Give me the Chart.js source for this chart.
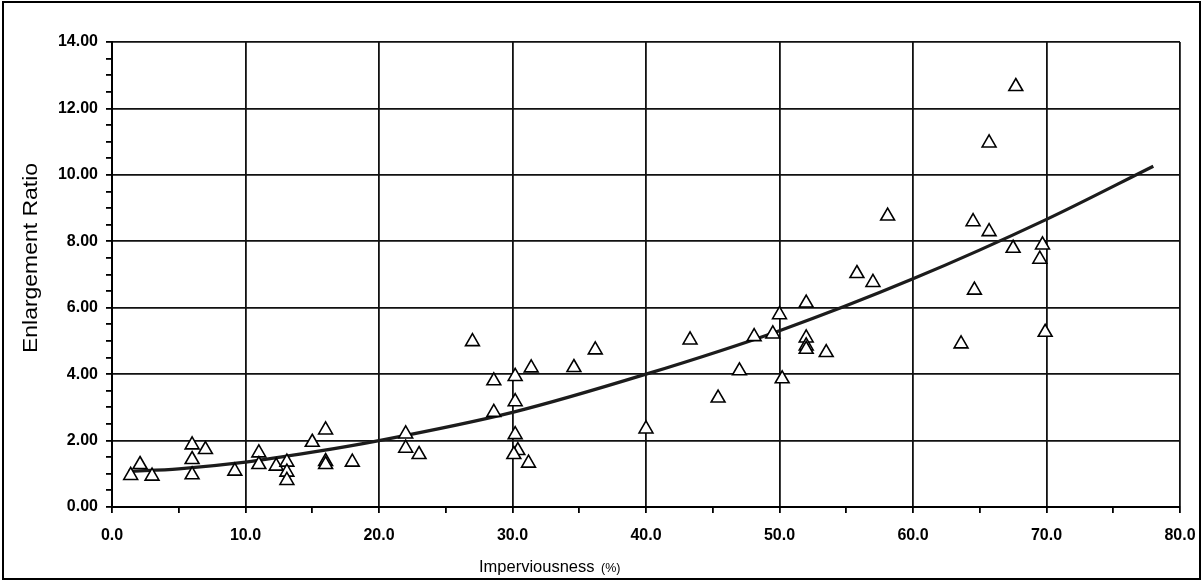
<!DOCTYPE html>
<html>
<head>
<meta charset="utf-8">
<script src="https://cdn.jsdelivr.net/npm/chart.js@4"></script>
<style>
  html, body { margin: 0; padding: 0; background: #fff; }
  #wrap { width: 1203px; height: 583px; position: relative; }
</style>
</head>
<body>
<div id="wrap"><canvas id="c" width="1203" height="583"></canvas></div>
<script>
const imperviousness = [1.4, 2.1, 3.0, 6, 6, 6, 7, 9.2, 11, 11, 12.3, 13.1, 13.1, 13.1, 15, 16, 16, 16, 18,
  22, 22, 23, 27, 28.6, 28.6, 30.2, 30.2, 30.2, 30.4, 30.1, 31.2, 31.4, 34.6, 36.2, 40,
  43.3, 45.4, 47, 48.1, 49.5, 50, 50.2, 52, 52, 52, 52, 53.5, 55.8, 57, 58.1,
  63.6, 64.6, 64.5, 65.7, 65.7, 67.5, 67.7, 69.5, 69.7, 69.9];
const enlargementRatio = [0.95, 1.28, 0.93, 1.87, 1.43, 0.97, 1.73, 1.08, 1.63, 1.28, 1.23, 1.35, 1.05, 0.80, 1.95, 2.32, 1.37, 1.28, 1.35,
  2.2, 1.77, 1.58, 4.98, 3.80, 2.85, 3.93, 3.17, 2.18, 1.70, 1.58, 1.32, 4.19, 4.20, 4.73, 2.35,
  5.03, 3.28, 4.10, 5.13, 5.21, 5.79, 3.86, 6.14, 5.09, 4.85, 4.75, 4.65, 7.03, 6.76, 8.76,
  4.91, 6.53, 8.59, 10.96, 8.29, 7.79, 12.66, 7.46, 7.89, 5.26];
// Trend curve, points
const trendX = [1.2, 5, 10, 15, 20, 30, 40, 50, 60, 70, 78];
const trendY = [1.07, 1.15, 1.35, 1.65, 2.0, 2.85, 4.0, 5.31, 6.87, 8.66, 10.26];
// Axis ranges and labels
const xTitleMain = 'Imperviousness';
const xTitleUnit = '(%)';
const yTitle = 'Enlargement Ratio';
const xMin = 0, xMax = 80, xMinorStep = 5, xMajorStep = 10;
const yMin = 0, yMax = 14, yMinorStep = 0.5, yMajorStep = 2;

const scatterData = imperviousness.map((x, i) => ({x: x, y: enlargementRatio[i]}));
const trendData = trendX.map((x, i) => ({x: x, y: trendY[i]}));

const isMult = (v, s) => Math.abs(v / s - Math.round(v / s)) < 1e-6;
const FONT = '"Liberation Sans", Arial, sans-serif';

const framePlugin = {
  id: 'frame',
  afterDraw(chart) {
    const ctx = chart.ctx;
    ctx.save();
    ctx.strokeStyle = '#000';
    ctx.lineWidth = 2;
    ctx.strokeRect(3, 2, 1197, 577);

    // x-axis title: main word plus smaller unit
    ctx.fillStyle = '#000';
    ctx.textBaseline = 'alphabetic';
    ctx.textAlign = 'left';
    ctx.font = '16.5px ' + FONT;
    ctx.fillText(xTitleMain, 479, 572);
    ctx.font = '12.5px ' + FONT;
    ctx.fillText(xTitleUnit, 601, 572);

    // y-axis title, rotated, stretched along its length
    ctx.font = '20px ' + FONT;
    const w = ctx.measureText(yTitle).width;
    ctx.translate(31, 258);
    ctx.rotate(-Math.PI / 2);
    ctx.scale(190 / w, 1);
    ctx.textAlign = 'center';
    ctx.textBaseline = 'middle';
    ctx.fillText(yTitle, 0, 0);
    ctx.restore();
  }
};

new Chart(document.getElementById('c'), {
  type: 'scatter',
  data: {
    datasets: [
      {
        label: 'Observed',
        data: scatterData,
        pointStyle: 'triangle',
        pointRadius: 8,
        pointHoverRadius: 8,
        pointBackgroundColor: '#fff',
        pointBorderColor: '#000',
        pointBorderWidth: 1.6,
        showLine: false,
        order: 0
      },
      {
        label: 'Trend',
        data: trendData,
        showLine: true,
        borderColor: '#1c1c1c',
        borderWidth: 3.2,
        pointRadius: 0,
        cubicInterpolationMode: 'monotone',
        fill: false,
        order: 1
      }
    ]
  },
  options: {
    responsive: false,
    animation: false,
    layout: { padding: { left: 0, right: 23, top: 42, bottom: 0 } },
    plugins: { legend: { display: false }, tooltip: { enabled: false } },
    scales: {
      x: {
        type: 'linear',
        min: xMin, max: xMax,
        afterFit(s) { s.height = 76; s.paddingLeft = 0; s.paddingRight = 0; },
        border: { color: '#000', width: 2 },
        grid: {
          color: c => isMult(c.tick.value, xMajorStep) ? '#111' : 'rgba(0,0,0,0)',
          tickColor: '#000',
          lineWidth: 1.8,
          tickLength: 6,
          drawOnChartArea: true
        },
        ticks: {
          stepSize: xMinorStep,
          autoSkip: false,
          maxRotation: 0,
          padding: 13,
          color: '#000',
          font: { family: FONT, size: 16, weight: 'bold' },
          callback: v => isMult(v, xMajorStep) ? Number(v).toFixed(1) : ''
        },
        title: { display: false }
      },
      y: {
        type: 'linear',
        min: yMin, max: yMax,
        afterFit(s) { s.width = 112; s.paddingTop = 0; s.paddingBottom = 0; },
        border: { color: '#000', width: 2 },
        grid: {
          color: c => isMult(c.tick.value, yMajorStep) ? '#111' : 'rgba(0,0,0,0)',
          tickColor: '#000',
          lineWidth: 1.8,
          tickLength: 6
        },
        ticks: {
          stepSize: yMinorStep,
          autoSkip: false,
          padding: 8,
          color: '#000',
          font: { family: FONT, size: 16, weight: 'bold' },
          callback: v => isMult(v, yMajorStep) ? Number(v).toFixed(2) : ''
        },
        title: { display: false }
      }
    }
  },
  plugins: [framePlugin]
});
</script>
</body>
</html>
